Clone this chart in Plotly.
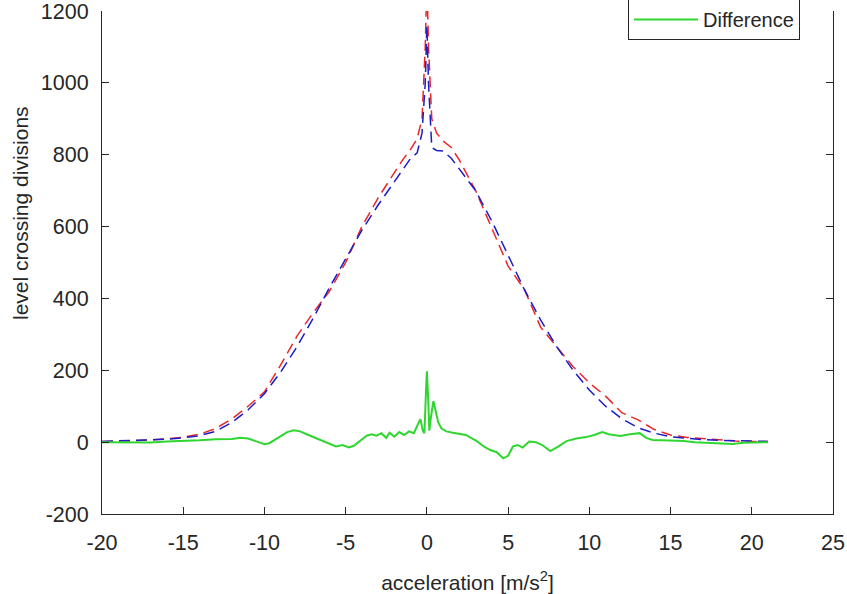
import plotly.graph_objects as go

# ---- data ----
x_curves = [-20, -18, -16, -15, -14, -13, -12, -11, -10, -9, -8, -7, -6, -5, -4, -3, -2, -1.5,
            -1, -0.6, -0.3, -0.1, 0, 0.1, 0.3, 0.6, 1, 1.5, 2, 3, 4, 5, 6, 7, 8, 9, 10, 11, 12,
            13, 14, 15, 16, 17, 18, 19, 20, 21]
red_vals = [2, 4, 9, 14, 22, 38, 65, 100, 140, 215, 295, 360, 420, 500, 600, 680, 750, 785,
            815, 845, 900, 1100, 1290, 1100, 900, 860, 838, 820, 785, 700, 595, 490, 425, 320,
            265, 210, 165, 128, 82, 62, 35, 20, 13, 9, 5, 3, 2, 2]
blue_vals = [2, 4, 8, 12, 18, 30, 55, 90, 135, 195, 265, 345, 430, 510, 590, 660, 725, 760,
             790, 805, 860, 1000, 1160, 1000, 820, 812, 810, 790, 760, 700, 615, 520, 425, 340,
             265, 200, 145, 100, 65, 40, 25, 15, 10, 7, 5, 4, 3, 2]

x_diff = [-20, -19, -18, -17, -16, -15, -14, -13, -12, -11.5, -11, -10.5, -10, -9.7, -9.2, -8.6,
          -8.2, -7.8, -7.4, -7, -6.5, -6, -5.6, -5.2, -4.8, -4.5, -4.1, -3.7, -3.4, -3.1, -2.8,
          -2.5, -2.3, -2.0, -1.7, -1.4, -1.1, -0.8, -0.55, -0.4, -0.25, -0.15, -0.05, 0, 0.08,
          0.15, 0.25, 0.4, 0.55, 0.7, 0.9, 1.2, 1.6, 2.0, 2.4, 2.8, 3.1, 3.5, 3.9, 4.3, 4.7, 5.0,
          5.3, 5.6, 5.9, 6.3, 6.7, 7.1, 7.6, 8.1, 8.6, 9.2, 9.8, 10.3, 10.8, 11.2, 11.9, 12.5,
          13.1, 13.5, 13.9, 14.5, 15.2, 15.8, 16.5, 17.3, 18, 18.8, 19.5, 20.3, 21]
diff_vals = [0, 0, 1, -1, 2, 3, 5, 8, 9, 12, 10, 2, -6, -3, 12, 28,
             33, 30, 22, 14, 5, -5, -12, -8, -15, -10, 5, 18, 22, 18, 25,
             12, 26, 15, 28, 20, 30, 25, 50, 64, 32, 25, 150, 197, 120,
             32, 70, 114, 85, 55, 38, 30, 26, 24, 20, 10, 2, -12, -22, -28, -45, -38,
             -12, -8, -15, 2, 0, -8, -25, -12, 3, 10, 14, 20, 28, 22, 17, 22,
             25, 12, 6, 5, 4, 3, 0, -2, -4, -5, -2, 0, 0]

x_ticks = [-20, -15, -10, -5, 0, 5, 10, 15, 20, 25]
x_ticktext = ["-20", "-15", "-10", "-5", "0", "5", "10", "15", "20", "25"]
y_ticks = [-200, 0, 200, 400, 600, 800, 1000, 1200]
y_ticktext = ["-200", "0", "200", "400", "600", "800", "1000", "1200"]

FONT = "Liberation Sans, Arial, Helvetica, sans-serif"
AX = "#262626"

fig = go.Figure()
fig.add_trace(go.Scatter(x=x_curves, y=red_vals, mode="lines", name="red",
                         line=dict(color="#e8282a", width=1.5, dash="11px,6px"),
                         showlegend=False))
fig.add_trace(go.Scatter(x=x_curves, y=blue_vals, mode="lines", name="blue",
                         line=dict(color="#1c1cc8", width=1.5, dash="11px,6px"),
                         showlegend=False))
fig.add_trace(go.Scatter(x=x_diff, y=diff_vals, mode="lines", name="Difference",
                         line=dict(color="#2fd62f", width=2)))

fig.update_layout(
    width=847, height=594,
    margin=dict(l=102, r=14, t=11, b=80, autoexpand=False),
    paper_bgcolor="white", plot_bgcolor="white",
    font=dict(family=FONT, size=21, color=AX),
    showlegend=True,
    legend=dict(x=(800 - 102) / 731, xanchor="right", y=1 + 12 / 503, yanchor="top",
                bgcolor="white", bordercolor=AX, borderwidth=1, itemwidth=64,
                font=dict(family=FONT, size=20, color=AX)),
    xaxis=dict(range=[-20, 25], tickvals=x_ticks, ticktext=x_ticktext,
               ticks="inside", ticklen=7, tickcolor=AX, tickwidth=1,
               showline=True, linecolor=AX, linewidth=1, mirror=False,
               showgrid=False, zeroline=False, ticklabelstandoff=9,
               tickfont=dict(family=FONT, size=21.5, color=AX),
               title=dict(text="acceleration [m/s<sup>2</sup>]",
                          font=dict(family=FONT, size=21, color=AX), standoff=22)),
    yaxis=dict(range=[-200, 1200], tickvals=y_ticks, ticktext=y_ticktext,
               ticks="inside", ticklen=7, tickcolor=AX, tickwidth=1,
               showline=True, linecolor=AX, linewidth=1, mirror="ticks",
               showgrid=False, zeroline=False, ticklabelstandoff=8,
               ticklabeloverflow="allow",
               tickfont=dict(family=FONT, size=21.5, color=AX)),
    annotations=[dict(text="level crossing divisions", xref="paper", yref="paper",
                      x=(20 - 102) / 731, y=(514 - 213) / 503, textangle=-90,
                      showarrow=False, xanchor="center", yanchor="middle",
                      font=dict(family=FONT, size=21, color=AX))],
)

fig.write_html("out.html", config={"displayModeBar": False},
               post_script="document.body.style.margin='0';document.body.style.padding='0';")
